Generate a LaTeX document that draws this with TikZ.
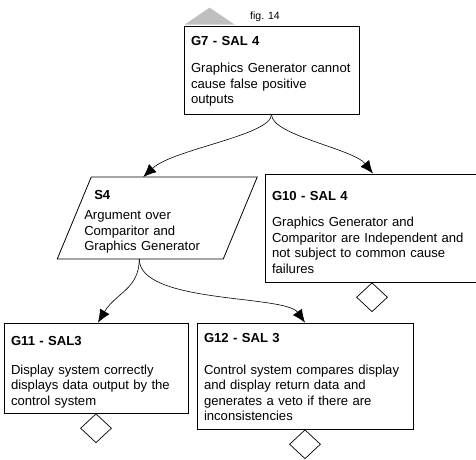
\documentclass[tikz,border=0pt]{standalone}
\usepackage{fontspec}
\setmainfont{Liberation Sans}
\usetikzlibrary{arrows.meta,positioning,shapes.geometric}
\hyphenpenalty=10000
\newcommand\gtitle[2]{\rule{0pt}{#1}\textbf{#2}}

\begin{document}
\begin{tikzpicture}[x=1pt,y=-1pt,line width=0.8pt,
  every node/.style={font=\fontsize{13.1}{15.5}\selectfont},
  goal/.style={draw,rectangle,align=left,inner xsep=7pt,inner ysep=0pt},
  strat/.style={rectangle,align=left,inner xsep=10pt,inner ysep=0pt,outer sep=0pt},
  undev/.style={draw,diamond,minimum width=31pt,minimum height=29pt,inner sep=0pt,line width=0.7pt},
  arr/.style={-{Latex[length=13pt,width=11pt]},line width=0.6pt}]
  \useasboundingbox (0,0) rectangle (476,459);

  \node[goal,text width=161pt,minimum height=88pt] (g7) at (271.5,70)
    {\gtitle{12.4pt}{G7 - SAL 4}\\[11.5pt] Graphics Generator cannot\\ cause false positive\\ outputs};
  \node[strat,text width=146pt,minimum height=82pt] (s4) at (157.25,218)
    {\hspace*{10pt}\gtitle{16.7pt}{S4}\\[4.8pt] Argument over\\ Comparitor and\\ Graphics Generator};
  \node[goal,text width=207pt,minimum height=108pt] (g10) at (375.5,228)
    {\gtitle{18.4pt}{G10 - SAL 4}\\[10.5pt] Graphics Generator and\\ Comparitor are Independent and\\ not subject to common cause\\ failures};
  \node[goal,text width=170pt,minimum height=90pt] (g11) at (96,368)
    {\gtitle{17.4pt}{G11 - SAL3}\\[13.5pt] Display system correctly\\ displays data output by the\\ control system};
  \node[goal,text width=202pt,minimum height=106pt] (g12) at (305,376)
    {\gtitle{11.4pt}{G12 - SAL 3}\\[16.5pt] Control system compares display\\ and display return data and\\ generates a veto if there are\\ inconsistencies};

  \node[undev,below=0pt of g10,xshift=-3.5pt] (d10) {};
  \node[undev,below=0pt of g11] (d11) {};
  \node[undev,below=0pt of g12] (d12) {};

  \node[font=\fontsize{10.5}{12}\selectfont] (fig) at (265,17) {fig. 14};
  \fill[gray!50] ([xshift=1pt,yshift=1pt]g7.north west) -- ++(25,-17) -- ++(25,17) -- cycle;

  % strategy outline
  \draw ([xshift=17pt]s4.north west) -- ([xshift=17pt]s4.north east)
    -- ([xshift=-17pt]s4.south east) -- ([xshift=-17pt]s4.south west) -- cycle;

  \draw[arr] (g7.south) .. controls +(0,21) and +(30,-28) .. ([xshift=-14pt]s4.north);
  \draw[arr] (g7.south) .. controls +(0,21) and +(-20,-25) .. ([xshift=-2.5pt]g10.north);
  \draw[arr] ([xshift=-18pt]s4.south) .. controls +(0,30) and +(18,-30) .. ([xshift=2pt]g11.north);
  \draw[arr] ([xshift=-18pt]s4.south) .. controls +(0,45) and +(-20,-28) .. (g12.north);
\end{tikzpicture}
\end{document}
